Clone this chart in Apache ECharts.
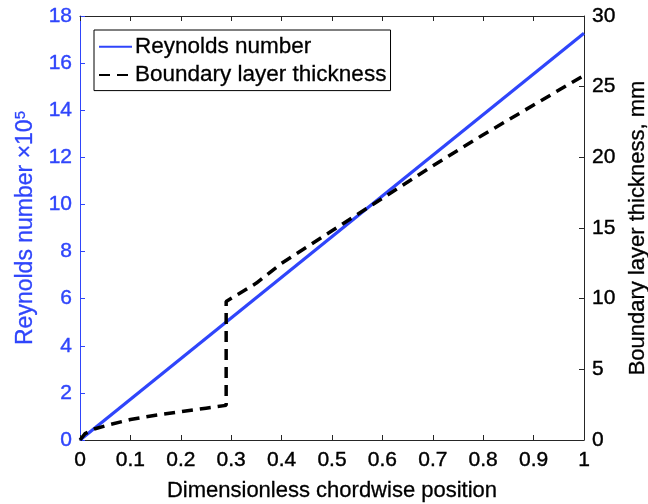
<!DOCTYPE html>
<html>
<head>
<meta charset="utf-8">
<script src="https://cdn.jsdelivr.net/npm/echarts@6/dist/echarts.min.js"></script>
<style>html,body{margin:0;padding:0;background:#fff;overflow:hidden;width:648px;height:504px}#c{width:648px;height:504px;display:block}</style>
</head>
<body>
<div id="c"></div>
<script>
// Data
var reX = [0, 1];
var reY = [0, 17.27];               // Reynolds number x10^5
var blX = [0, 0.01, 0.03, 0.06, 0.1, 0.15, 0.2, 0.25, 0.29, 0.29, 0.35, 0.4, 0.5, 0.6, 0.7, 0.8, 0.9, 1.0];
var blY = [0, 0.45, 0.8, 1.1, 1.45, 1.75, 2.0, 2.25, 2.45, 9.8, 11.1, 12.5, 14.8, 17.1, 19.4, 21.6, 23.7, 25.8]; // mm
var xTicks = ['0','0.1','0.2','0.3','0.4','0.5','0.6','0.7','0.8','0.9','1'];
var seriesNames = ['Reynolds number', 'Boundary layer thickness'];

var BLUE = '#2f45fb';
var FONT = 'Liberation Sans';

function pairs(xs, ys) { return xs.map(function (x, i) { return [x, ys[i]]; }); }

var chart = echarts.init(document.getElementById('c'), null, {renderer: 'canvas', width: 648, height: 504});
chart.setOption({
  animation: false,
  backgroundColor: '#fff',
  textStyle: {fontFamily: FONT},
  grid: {left: 80, right: 64, top: 16, bottom: 64, containLabel: false, outerBoundsMode: 'none'},
  legend: {
    left: 94, top: 30,
    orient: 'vertical',
    backgroundColor: '#fff',
    borderColor: '#000', borderWidth: 1, borderRadius: 0,
    padding: [5, 4, 4, 4],
    itemGap: 5, itemWidth: 33, itemHeight: 14,
    itemStyle: {opacity: 0},
    textStyle: {fontFamily: FONT, fontSize: 22.5, color: '#000', padding: [0, 0, 0, -2],
      textBorderColor: '#000', textBorderWidth: 0.3},
    data: seriesNames
  },
  xAxis: [{
    type: 'value', min: 0, max: 1, interval: 0.1, position: 'bottom',
    name: 'Dimensionless chordwise position', nameLocation: 'middle', nameGap: 40,
    nameTextStyle: {fontFamily: FONT, fontSize: 22, color: '#000', textBorderColor: '#000', textBorderWidth: 0.3},
    axisLine: {show: true, onZero: false, lineStyle: {color: '#262626', width: 1}},
    axisTick: {show: true, inside: true, length: 5, lineStyle: {color: '#262626'}},
    axisLabel: {fontFamily: FONT, fontSize: 21, color: '#000', margin: 10,
      textBorderColor: '#000', textBorderWidth: 0.4,
      formatter: function (v) { return xTicks[Math.round(v * 10)]; }},
    splitLine: {show: false}
  }, {
    type: 'value', min: 0, max: 1, interval: 0.1, position: 'top',
    axisLine: {show: true, onZero: false, lineStyle: {color: '#262626', width: 1}},
    axisTick: {show: true, inside: true, length: 5, lineStyle: {color: '#262626'}},
    axisLabel: {show: false}, splitLine: {show: false}
  }],
  yAxis: [{
    type: 'value', min: 0, max: 18, interval: 2, position: 'left',
    name: 'Reynolds number ×10{sup|5}', nameLocation: 'middle', nameGap: 41, nameRotate: 90,
    nameTextStyle: {fontFamily: FONT, fontSize: 23, color: BLUE, textBorderColor: BLUE, textBorderWidth: 0.3,
      rich: {sup: {fontFamily: FONT, fontSize: 15, color: BLUE, textBorderColor: BLUE, textBorderWidth: 0.3,
        verticalAlign: 'top', padding: [0, 0, 10, 0]}}},
    axisLine: {show: true, onZero: false, lineStyle: {color: BLUE, width: 1}},
    axisTick: {show: true, inside: true, length: 5, lineStyle: {color: BLUE}},
    axisLabel: {fontFamily: FONT, fontSize: 21, color: BLUE, margin: 8, textBorderColor: BLUE, textBorderWidth: 0.4},
    splitLine: {show: false}
  }, {
    type: 'value', min: 0, max: 30, interval: 5, position: 'right',
    name: 'Boundary layer thickness, mm', nameLocation: 'middle', nameGap: 41, nameRotate: 90,
    nameTextStyle: {fontFamily: FONT, fontSize: 22, color: '#000', textBorderColor: '#000', textBorderWidth: 0.3},
    axisLine: {show: true, onZero: false, lineStyle: {color: '#262626', width: 1}},
    axisTick: {show: true, inside: true, length: 5, lineStyle: {color: '#262626'}},
    axisLabel: {fontFamily: FONT, fontSize: 21, color: '#000', margin: 8, textBorderColor: '#000', textBorderWidth: 0.4},
    splitLine: {show: false}
  }],
  series: [{
    name: seriesNames[0], type: 'line', xAxisIndex: 0, yAxisIndex: 0,
    data: pairs(reX, reY), showSymbol: false, symbol: 'none',
    lineStyle: {color: BLUE, width: 3.2}, itemStyle: {color: BLUE}
  }, {
    name: seriesNames[1], type: 'line', xAxisIndex: 0, yAxisIndex: 1,
    data: pairs(blX, blY), showSymbol: false, symbol: 'none',
    lineStyle: {color: '#000', width: 3.5, type: [11, 7]}, itemStyle: {color: '#000'}
  }]
});
</script>
</body>
</html>
